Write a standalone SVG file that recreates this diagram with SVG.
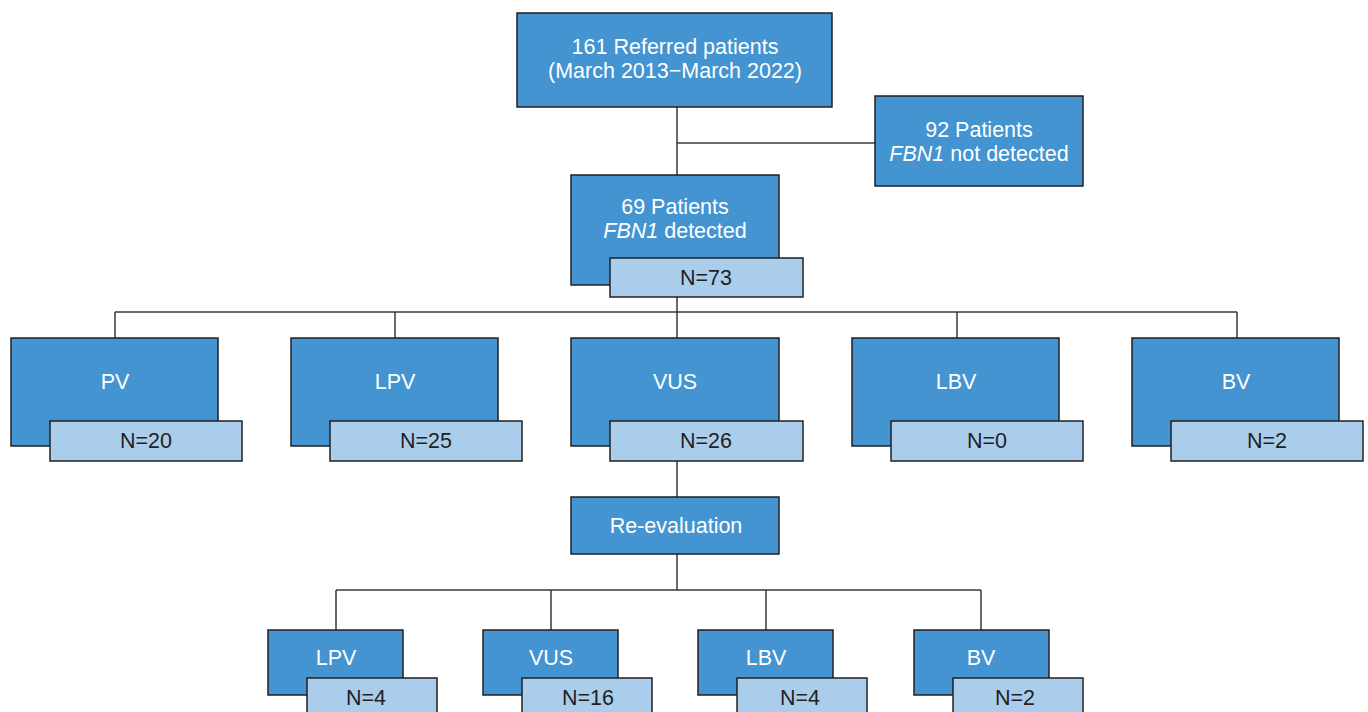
<svg xmlns="http://www.w3.org/2000/svg" width="1368" height="712" viewBox="0 0 1368 712">
<style>
.d{fill:#4394d1;stroke:#231f20;stroke-width:1.5}
.l{fill:#abcdec;stroke:#231f20;stroke-width:1.5}
.t{font-family:"Liberation Sans",Arial,sans-serif;font-size:21.5px;text-anchor:middle;fill:#fff}
.n{font-family:"Liberation Sans",Arial,sans-serif;font-size:21.5px;text-anchor:middle;fill:#231f20}
.c{fill:none;stroke:#3a3a3a;stroke-width:1.5}
</style>
<rect width="1368" height="712" fill="#fff"/>
<g id="connectors">
<path class="c" d="M677 107V175M677 143H875M677 297V338M115 312H1237M115 312V338M395 312V338M957 312V338M1237 312V338M677 461V497M677 554V590M336 590H981M336 590V630M551 590V630M766 590V630M981 590V630"/>
</g>
<g id="n161"><rect class="d" x="517" y="13" width="315" height="94"/>
<text class="t" x="675" y="54">161 Referred patients</text><text class="t" x="675" y="78">(March 2013−March 2022)</text></g>
<g id="n92"><rect class="d" x="875" y="96" width="208" height="90"/>
<text class="t" x="979" y="137">92 Patients</text><text class="t" x="979" y="161"><tspan font-style="italic">FBN1</tspan> not detected</text></g>
<g id="n69"><rect class="d" x="571" y="175" width="208" height="110"/>
<text class="t" x="675" y="214">69 Patients</text><text class="t" x="675" y="238"><tspan font-style="italic">FBN1</tspan> detected</text>
<rect class="l" x="610" y="258" width="193" height="39"/><text class="n" x="706" y="285">N=73</text></g>
<g id="pv"><rect class="d" x="11" y="338" width="207" height="108"/><text class="t" x="115" y="389">PV</text>
<rect class="l" x="50" y="421" width="192" height="40"/><text class="n" x="146" y="448">N=20</text></g>
<g id="lpv"><rect class="d" x="291" y="338" width="207" height="108"/><text class="t" x="395" y="389">LPV</text>
<rect class="l" x="330" y="421" width="192" height="40"/><text class="n" x="426" y="448">N=25</text></g>
<g id="vus"><rect class="d" x="571" y="338" width="208" height="108"/><text class="t" x="675" y="389">VUS</text>
<rect class="l" x="610" y="421" width="193" height="40"/><text class="n" x="706" y="448">N=26</text></g>
<g id="lbv"><rect class="d" x="852" y="338" width="207" height="108"/><text class="t" x="956" y="389">LBV</text>
<rect class="l" x="891" y="421" width="192" height="40"/><text class="n" x="987" y="448">N=0</text></g>
<g id="bv"><rect class="d" x="1132" y="338" width="207" height="108"/><text class="t" x="1236" y="389">BV</text>
<rect class="l" x="1171" y="421" width="192" height="40"/><text class="n" x="1267" y="448">N=2</text></g>
<g id="reeval"><rect class="d" x="571" y="497" width="208" height="57"/><text class="t" x="676" y="533">Re-evaluation</text></g>
<g id="lpv2"><rect class="d" x="268" y="630" width="135" height="65"/><text class="t" x="336" y="665">LPV</text>
<rect class="l" x="307" y="678" width="130" height="40"/><text class="n" x="366" y="705">N=4</text></g>
<g id="vus2"><rect class="d" x="483" y="630" width="135" height="65"/><text class="t" x="551" y="665">VUS</text>
<rect class="l" x="522" y="678" width="130" height="40"/><text class="n" x="588" y="705">N=16</text></g>
<g id="lbv2"><rect class="d" x="698" y="630" width="135" height="65"/><text class="t" x="766" y="665">LBV</text>
<rect class="l" x="737" y="678" width="130" height="40"/><text class="n" x="800" y="705">N=4</text></g>
<g id="bv2"><rect class="d" x="914" y="630" width="135" height="65"/><text class="t" x="981" y="665">BV</text>
<rect class="l" x="953" y="678" width="130" height="40"/><text class="n" x="1015" y="705">N=2</text></g>
</svg>
